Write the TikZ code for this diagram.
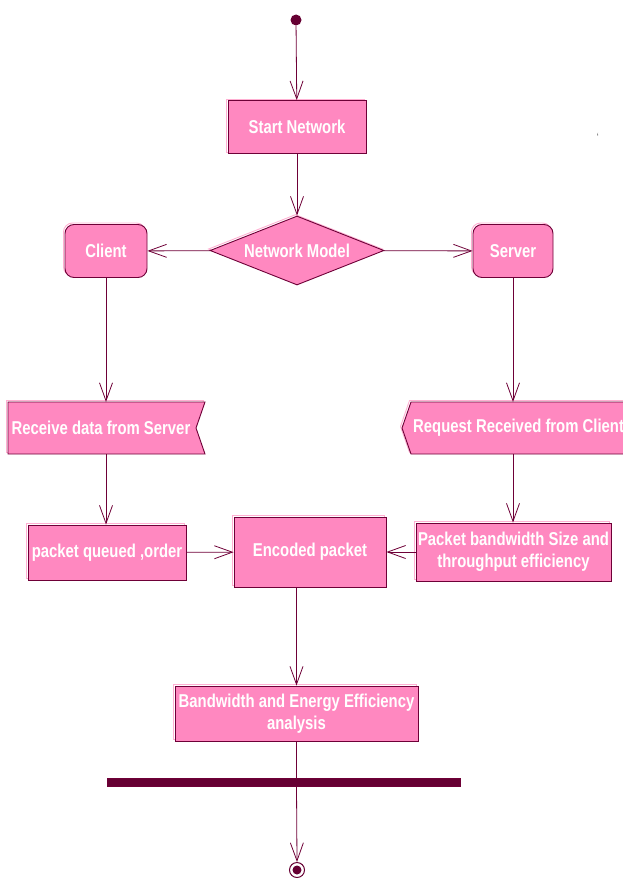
\documentclass[tikz,border=0pt]{standalone}
\usepackage{fontspec}
\newfontfamily\bfont[FakeStretch=0.8]{Liberation Sans}
\usetikzlibrary{arrows.meta,shapes.geometric}
\definecolor{pinkfill}{RGB}{255,136,192}
\definecolor{lightpink}{RGB}{255,175,210}
\definecolor{edgec}{RGB}{110,0,55}
\definecolor{barc}{RGB}{102,0,51}
\begin{document}
\begin{tikzpicture}[x=1pt,y=-1pt,
  lab/.style={text=white,font=\bfont\bfseries\fontsize{18.6}{22}\selectfont,align=center,inner sep=0pt},
  box/.style={lab,draw=edgec,fill=pinkfill,line width=0.9pt,
    preaction={draw=lightpink,line width=0.9pt,transform canvas={shift={(-1.5pt,1.5pt)}}}},
  shapeline/.style={draw=edgec,fill=pinkfill,line width=0.9pt,
    preaction={draw=lightpink,line width=0.9pt,transform canvas={shift={(-1.5pt,1.5pt)}}}},
  conn/.style={draw=edgec,line width=0.8pt},
  arr/.style={conn,-{Straight Barb[length=18pt,width=13pt,line width=0.8pt]}}]
\useasboundingbox (0,0) rectangle (622,880);

\node[circle,fill=barc,minimum size=11pt,inner sep=0pt] (start) at (296,20) {};
\node[box,minimum width=138pt,minimum height=53pt] (sn) at (297,127) {Start Network};
\node[box,diamond,aspect=2.52,minimum width=174pt,minimum height=69pt] (nm) at (297,250.5) {Network Model};
\node[box,rounded corners=9pt,minimum width=82pt,minimum height=53pt] (cl) at (106,251) {Client};
\node[box,rounded corners=9pt,minimum width=80pt,minimum height=53pt] (sv) at (513,251) {Server};

\draw[shapeline] (8,402) -- (205,402) -- (196,428) -- (205,454) -- (8,454) -- cycle;
\node[lab] (rcv) at (101,428) {Receive data from Server};
\coordinate (rcvtop) at (106,402);
\coordinate (rcvbot) at (106,454);

\draw[shapeline] (411,402) -- (660,402) -- (660,454) -- (411,454) -- (402,428) -- cycle;
\node[lab,anchor=west] (req) at (413,428) {Request Received from Client};
\coordinate (reqtop) at (513,402);
\coordinate (reqbot) at (513,454);

\node[box,minimum width=158pt,minimum height=55pt] (pq) at (107,552.5) {packet queued ,order};
\node[box,minimum width=152pt,minimum height=70pt] (enc) at (310,552) {Encoded packet};
\node[box,minimum width=195pt,minimum height=58pt] (pb) at (513.5,552) {Packet bandwidth Size and\\throughput efficiency};
\node[box,minimum width=243pt,minimum height=55pt] (bw) at (296.5,713.5) {Bandwidth and Energy Efficiency\\analysis};
\node[draw=edgec,fill=barc,minimum width=353pt,minimum height=8pt,inner sep=0pt] (bar) at (283.5,782) {};
\node[circle,draw=barc,line width=1pt,minimum size=15pt,inner sep=0pt] (end) at (297,870) {};
\node[circle,fill=barc,minimum size=9pt,inner sep=0pt] (endin) at (end) {};

\node[font=\small] (tick) at (598,136) {`};

\draw[arr] (start) -- (sn);
\draw[arr] (sn) -- (nm);
\draw[arr] (nm) -- (cl);
\draw[arr] (nm) -- (sv);
\draw[arr] (cl) -- (rcvtop);
\draw[arr] (sv) -- (reqtop);
\draw[arr] (rcvbot) -- (pq.north -| rcvbot);
\draw[arr] (reqbot) -- (pb.north -| reqbot);
\draw[arr] (pq) -- (enc);
\draw[arr] (pb) -- (enc);
\draw[arr] (enc.south -| bw.north) -- (bw.north);
\draw[conn] (bw.south) -- (bw.south |- bar.north);
\draw[arr] (bw.south |- bar.south) -- (end.north);
\end{tikzpicture}
\end{document}
